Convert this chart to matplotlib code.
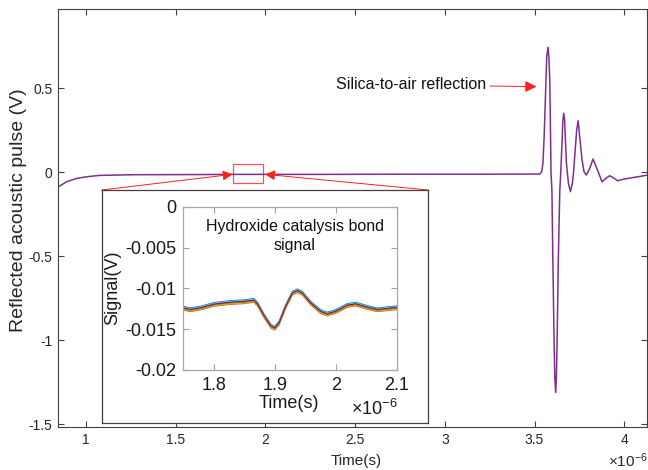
import numpy as np
import matplotlib
matplotlib.use('Agg')
import matplotlib.pyplot as plt
from matplotlib.patches import Rectangle

plt.rcParams['font.family'] = ['Liberation Sans', 'DejaVu Sans']
plt.rcParams['axes.unicode_minus'] = False
plt.rcParams['mathtext.default'] = 'regular'

# main trace, time in units of 1e-6 s, voltage in V
t_main = [0.846, 0.892, 0.948, 1.004, 1.078, 1.264, 1.635, 1.82, 1.90, 1.99, 2.3,
          2.8, 3.2, 3.529, 3.540, 3.547, 3.554, 3.561, 3.568, 3.5755, 3.580, 3.585, 3.589, 3.592,
          3.597, 3.602, 3.609, 3.613, 3.618, 3.622, 3.626, 3.633, 3.641, 3.646,
          3.654, 3.658, 3.663, 3.668, 3.672, 3.678, 3.689, 3.700, 3.711, 3.718, 3.724, 3.735,
          3.743, 3.752, 3.765, 3.776, 3.789, 3.808, 3.826, 3.851, 3.876, 3.897,
          3.919, 3.940, 3.962, 3.990, 4.021, 4.077, 4.131]
v_main = [-0.086, -0.056, -0.036, -0.026, -0.018, -0.014, -0.013, -0.012, -0.012, -0.012, -0.012,
          -0.011, -0.011, -0.010, 0.004, 0.054, 0.22, 0.45, 0.688, 0.744, 0.688, 0.549, 0.251, -0.006,
          -0.105, -0.502, -0.998, -1.217, -1.310, -1.217, -0.998, -0.502, -0.105, -0.006,
          0.192, 0.31, 0.351, 0.31, 0.20, 0.054, -0.065, -0.115, -0.065, 0.005, 0.093, 0.251,
          0.307, 0.212, 0.073, 0.004, -0.016, 0.024, 0.079, 0.014, -0.056, -0.036,
          -0.020, -0.032, -0.050, -0.042, -0.036, -0.026, -0.016]

# zoomed bond signal (inset)
t_bond = [1.75, 1.761, 1.778, 1.80, 1.827, 1.849, 1.866, 1.872, 1.883, 1.894, 1.90,
          1.907, 1.918, 1.929, 1.937, 1.945, 1.959, 1.975, 1.986, 2.0, 2.019, 2.033,
          2.052, 2.068, 2.079, 2.1]
v_bond = [-0.01245, -0.01265, -0.01245, -0.0120, -0.01176, -0.01167, -0.0115, -0.0120,
          -0.01347, -0.01469, -0.0149, -0.01429, -0.01224, -0.01061, -0.01033, -0.01061,
          -0.01184, -0.01286, -0.01318, -0.01286, -0.01212, -0.01196, -0.01237, -0.01265,
          -0.01257, -0.0124]
bond_offsets = [0.00025, -0.0002, -0.00012, 0.0001, -0.00005, 0.00018, 0.00005]
matlab_cols = ['#0072BD', '#D95319', '#EDB120', '#7E2F8E', '#77AC30', '#4DBEEE', '#A2142F']

main_xticks = [1, 1.5, 2, 2.5, 3, 3.5, 4]
main_xlabels = ['1', '1.5', '2', '2.5', '3', '3.5', '4']
main_yticks = [-1.5, -1, -0.5, 0, 0.5]
main_ylabels = ['-1.5', '-1', '-0.5', '0', '0.5']
ins_xticks = [1.8, 1.9, 2.0, 2.1]
ins_xlabels = ['1.8', '1.9', '2', '2.1']
ins_yticks = [-0.02, -0.015, -0.01, -0.005, 0]
ins_ylabels = ['-0.02', '-0.015', '-0.01', '-0.005', '0']

W, H = 648, 470
def fx(x):
    return x / W
def fy(y):
    return 1 - y / H

fig = plt.figure(figsize=(6.48, 4.70), dpi=100)
ax = fig.add_axes([fx(58), fy(427), (647 - 58) / W, (427 - 9) / H])
ax.plot(t_main, v_main, color='#7E2F8E', lw=1.1)
ax.set_xlim(0.844, 4.127)
ax.set_ylim(-1.515, 0.972)
ax.set_xticks(main_xticks)
ax.set_xticklabels(main_xlabels)
ax.set_yticks(main_yticks)
ax.set_yticklabels(main_ylabels)
ax.tick_params(direction='in', length=4, width=0.8, colors='#404040', labelcolor='#262626',
               labelsize=10, top=True, right=True, pad=4)
for s in ax.spines.values():
    s.set_color('#404040')
    s.set_linewidth(0.8)

# zoom box
ax.add_patch(Rectangle((1.821, -0.065), 0.167, 0.113, fill=False, edgecolor='#ff5050', lw=0.9))
arr = dict(arrowstyle='-|>,head_length=0.6,head_width=0.3', color='#ff2020', lw=0.7,
           shrinkA=0, shrinkB=0)
ax.annotate('', xy=(232.7, H - 174.3), xycoords='figure pixels',
            xytext=(101.7, H - 190), textcoords='figure pixels', arrowprops=arr)
ax.annotate('', xy=(265, H - 174.3), xycoords='figure pixels',
            xytext=(428.3, H - 190), textcoords='figure pixels', arrowprops=arr)

ax.annotate('Silica-to-air reflection', xy=(3.511, 0.51), xytext=(3.228, 0.52),
            ha='right', va='center', fontsize=11.5, color='#111111',
            arrowprops=dict(arrowstyle='-|>,head_length=0.6,head_width=0.3', color='#ff2020',
                            lw=0.7, shrinkA=1, shrinkB=0))

fig.text(fx(19), fy(210), 'Reflected acoustic pulse (V)', rotation=90, ha='center', va='center',
         fontsize=14, color='#262626')
fig.text(fx(356), fy(461), 'Time(s)', ha='center', va='center', fontsize=11, color='#262626')
fig.text(fx(648), fy(461), r'$\times10^{-6}$', ha='right', va='center', fontsize=11, color='#262626')

# inset frame
box = fig.add_axes([fx(101.7), fy(423.3), (428.3 - 101.7) / W, (423.3 - 190) / H])
box.set_xticks([])
box.set_yticks([])
box.set_facecolor('white')
for s in box.spines.values():
    s.set_color('#404040')
    s.set_linewidth(0.9)

ins = fig.add_axes([fx(183.3), fy(370), (396.7 - 183.3) / W, (370 - 206.7) / H])
for k in range(len(bond_offsets)):
    ins.plot(t_bond, np.array(v_bond) + bond_offsets[k], color=matlab_cols[k], lw=0.8)
ins.set_xlim(1.75, 2.1)
ins.set_ylim(-0.02, 0)
ins.set_xticks(ins_xticks)
ins.set_xticklabels(ins_xlabels)
ins.set_yticks(ins_yticks)
ins.set_yticklabels(ins_ylabels)
ins.tick_params(direction='in', length=4, width=0.8, colors='#a0a0a0', labelcolor='#1a1a1a',
                labelsize=13, top=True, right=True, pad=5)
for s in ins.spines.values():
    s.set_color('#a8a8a8')
    s.set_linewidth(0.9)
ins.text(0.523, 0.822, 'Hydroxide catalysis bond\nsignal', transform=ins.transAxes,
         ha='center', va='center', fontsize=11.5, linespacing=1.3, color='#111111')

fig.text(fx(112.7), fy(288), 'Signal(V)', rotation=90, ha='center', va='center', fontsize=13,
         color='#1a1a1a')
fig.text(fx(289), fy(404), 'Time(s)', ha='center', va='center', fontsize=13, color='#1a1a1a')
fig.text(fx(398), fy(409), r'$\times10^{-6}$', ha='right', va='center', fontsize=13, color='#1a1a1a')

fig.savefig('out.png', dpi=100)
